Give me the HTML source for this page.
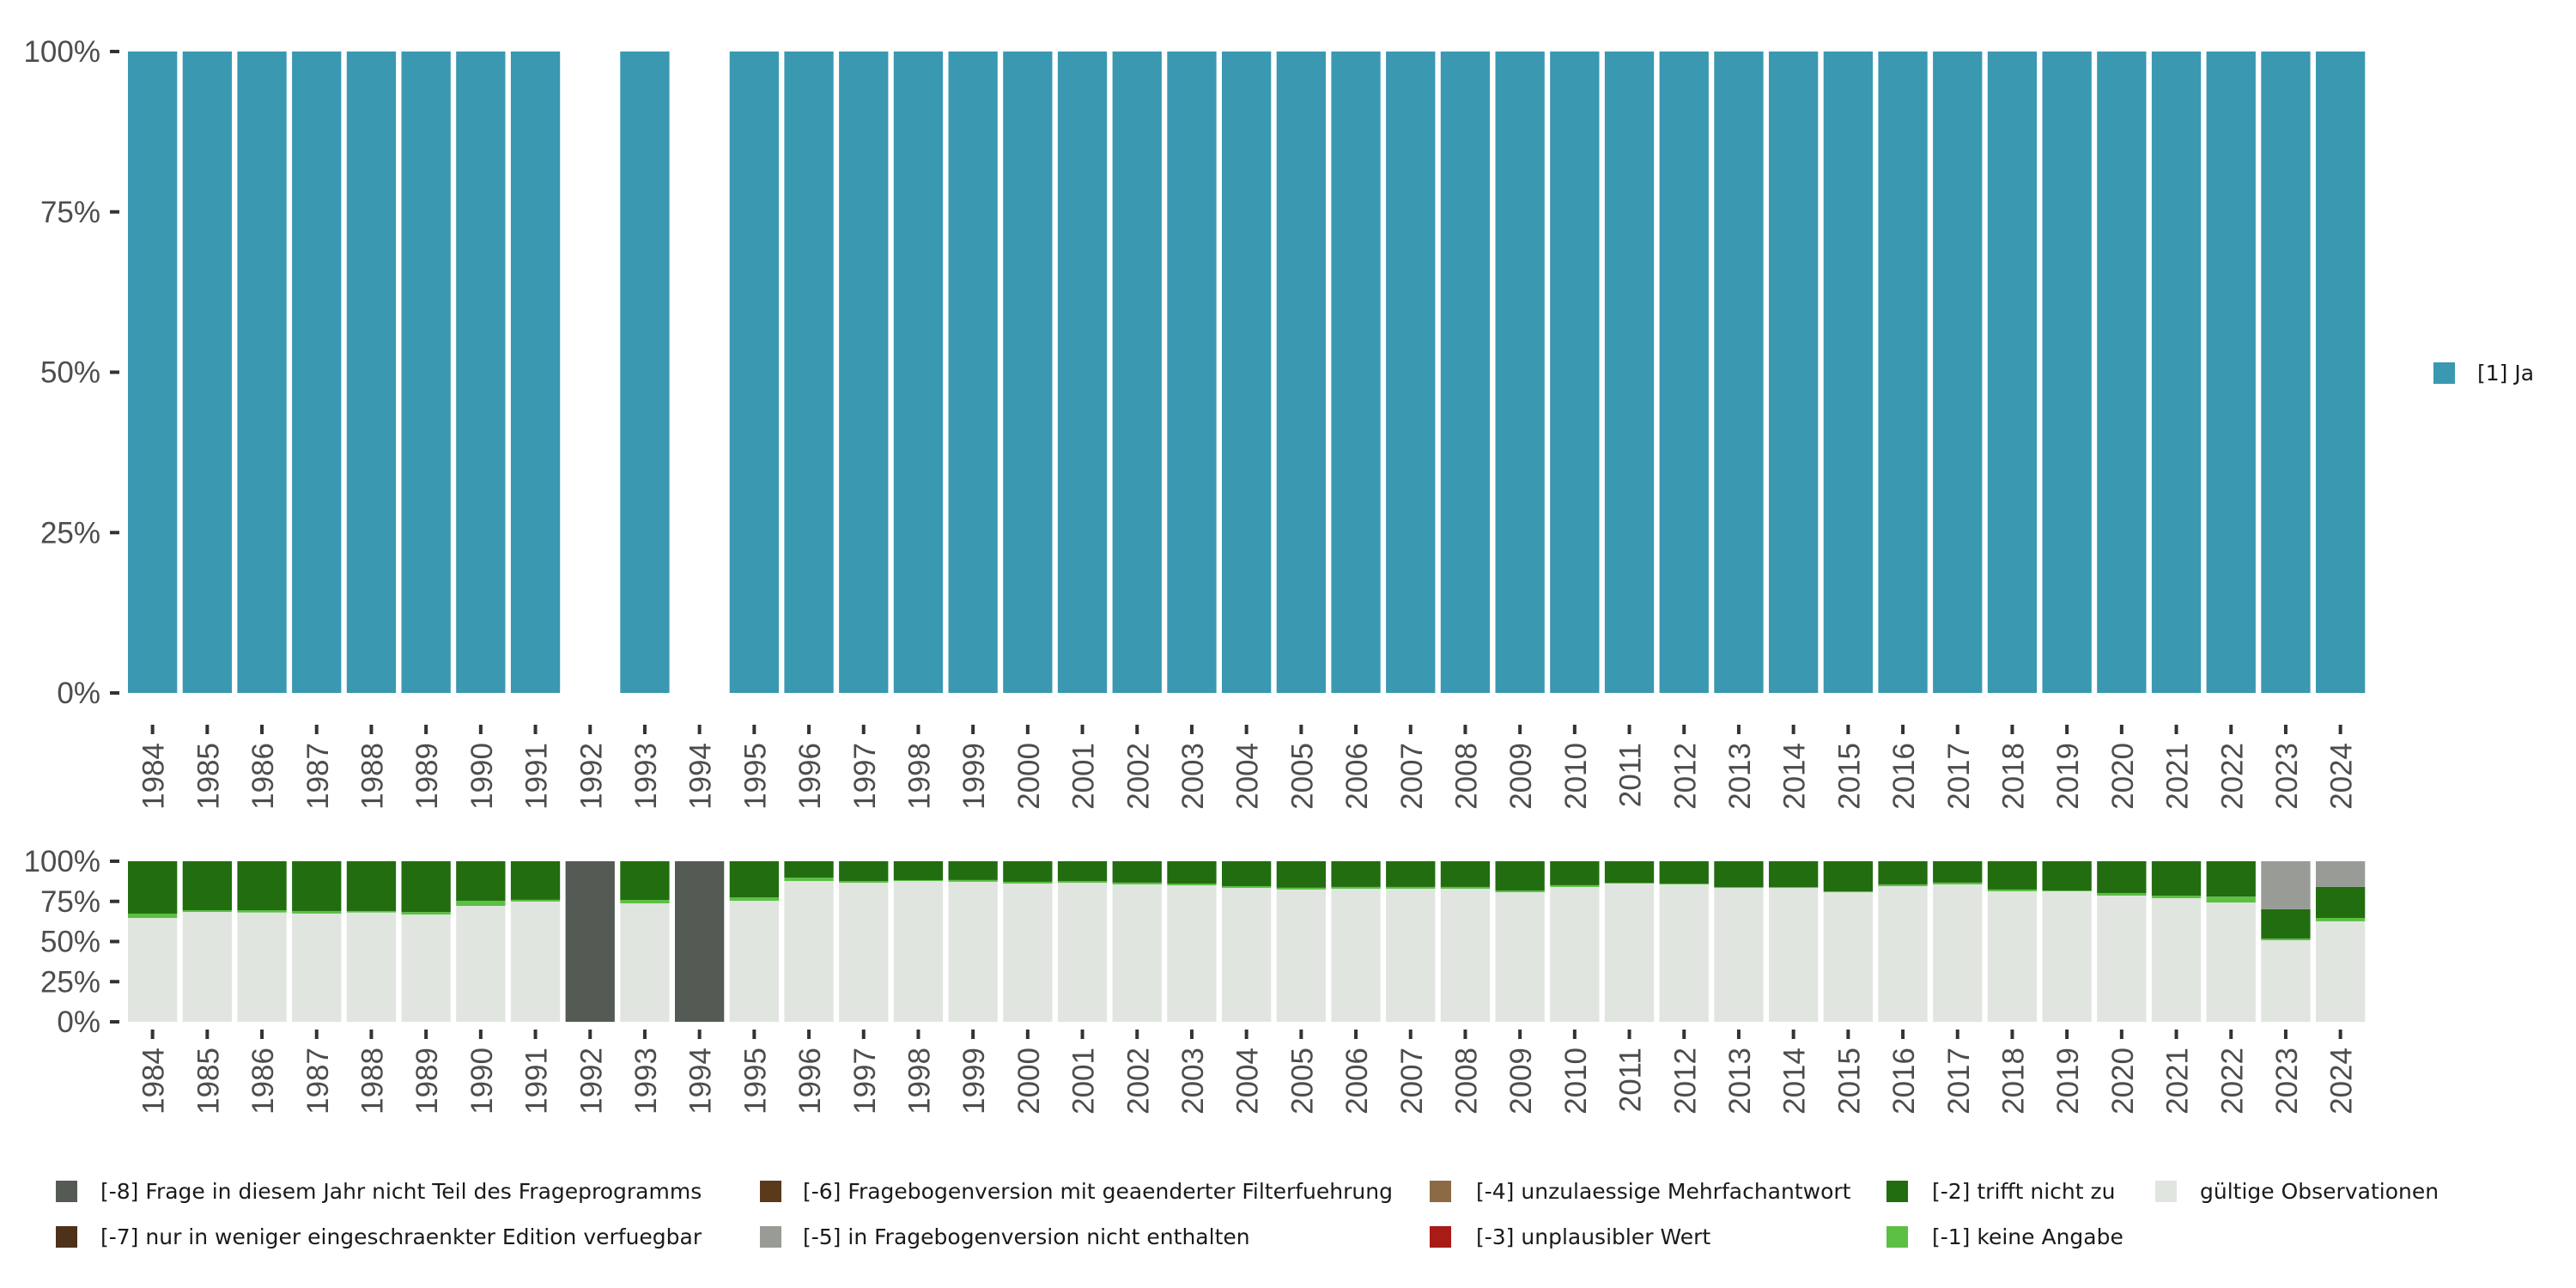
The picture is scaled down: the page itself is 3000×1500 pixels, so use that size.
<!DOCTYPE html>
<html><head><meta charset="utf-8"><style>
html,body{margin:0;padding:0;background:#fff;}
svg{display:block;font-family:"Liberation Sans",sans-serif;}
</style></head><body>
<svg id="chart" width="3000" height="1500" xmlns="http://www.w3.org/2000/svg">
<g id="top"></g>
<g id="bot"></g>
<g id="leg"></g>
</svg>
<script>
const years = [1984,1985,1986,1987,1988,1989,1990,1991,1992,1993,1994,1995,1996,1997,1998,1999,2000,2001,2002,2003,2004,2005,2006,2007,2008,2009,2010,2011,2012,2013,2014,2015,2016,2017,2018,2019,2020,2021,2022,2023,2024];
const topJa = [100,100,100,100,100,100,100,100,null,100,null,100,100,100,100,100,100,100,100,100,100,100,100,100,100,100,100,100,100,100,100,100,100,100,100,100,100,100,100,100,100];
const valid = [64.7,68.4,68.1,67.4,68.1,66.8,72.2,74.9,0,73.8,0,75.4,87.7,86.6,87.7,87.2,86.1,86.6,85.6,85.0,83.4,82.4,82.9,82.9,82.9,80.7,84.0,86.1,85.6,83.4,83.4,80.7,84.5,85.6,81.3,81.3,78.6,77.0,74.3,50.8,62.6];
const keineAngabe = [2.7,1.1,1.4,1.6,0.9,1.6,3.2,1.1,0,2.1,0,2.1,2.1,1.1,0.5,1.1,1.1,1.1,1.1,1.1,1.1,1.1,1.1,1.1,1.1,1.1,1.1,0.5,0.5,0.5,0.5,0.5,1.1,1.1,1.1,0.5,1.6,1.6,3.7,1.1,2.1];
const nichtEnthalten = [0,0,0,0,0,0,0,0,0,0,0,0,0,0,0,0,0,0,0,0,0,0,0,0,0,0,0,0,0,0,0,0,0,0,0,0,0,0,0,29.9,16.0];
const nichtTeil = [0,0,0,0,0,0,0,0,100,0,100,0,0,0,0,0,0,0,0,0,0,0,0,0,0,0,0,0,0,0,0,0,0,0,0,0,0,0,0,0,0];
const yTicks = [0,25,50,75,100];
const NS='http://www.w3.org/2000/svg';
function mk(parent,tag,attrs){const e=document.createElementNS(NS,tag);for(const k in attrs)e.setAttribute(k,attrs[k]);parent.appendChild(e);return e;}
const x0=149, pitch=63.7, bw=57.3;
function xPos(i){return x0+i*pitch;}
function drawAxes(g,yTop,yBot,tickTop,labTop,prefix){
  const ys=v=>yBot-(yBot-yTop)*v/100;
  yTicks.forEach(t=>{
    const tk=mk(g,'rect',{x:128,y:ys(t)-2,width:11,height:4,fill:'#333'});
    
    
    const tx=mk(g,'text',{x:117,y:ys(t)+12,'text-anchor':'end','font-size':35,fill:'#4d4d4d'});
    tx.textContent=t+'%';
    
    
  });
  years.forEach((yr,i)=>{
    const cx=xPos(i)+bw/2;
    const tk=mk(g,'rect',{x:cx-2,y:tickTop,width:4,height:11,fill:'#333'});
    
    
    const tx=mk(g,'text',{x:0,y:0,'text-anchor':'end','font-size':35,fill:'#4d4d4d',transform:`translate(${cx+13},${labTop}) rotate(-90)`});
    tx.textContent=yr;
    
    
  });
  return ys;
}
const gt=document.getElementById('top');
const ysT=drawAxes(gt,60,807,844,865,'top');
topJa.forEach((v,i)=>{
  if(v==null)return;
  const r=mk(gt,'rect',{x:xPos(i),y:ysT(v),width:bw,height:ysT(0)-ysT(v),fill:'#3a98b1'});
  
  
});
const gb=document.getElementById('bot');
const ysB=drawAxes(gb,1003,1190,1199,1220,'bottom');
const cols={valid:'#e1e5e0',k:'#5bc044',t:'#226d0f',n:'#999c96',e:'#545b54'};
years.forEach((yr,i)=>{
  const parts=[['valid',valid[i]],['k',keineAngabe[i]]];
  let rest;
  if(nichtTeil[i]>0){parts.length=0;parts.push(['e',nichtTeil[i]]);}
  else{rest=100-valid[i]-keineAngabe[i]-nichtEnthalten[i];parts.push(['t',rest]);parts.push(['n',nichtEnthalten[i]]);}
  let acc=0;
  parts.forEach(([k,v])=>{
    if(v<=0)return;
    const r=mk(gb,'rect',{x:xPos(i),y:ysB(acc+v),width:bw,height:ysB(acc)-ysB(acc+v),fill:cols[k]});
    
    
    acc+=v;
  });
});
const gl=document.getElementById('leg');
const leg=[
 [65,117,1387,'#545b54','[-8] Frage in diesem Jahr nicht Teil des Frageprogramms'],
 [65,117,1440,'#4d3119','[-7] nur in weniger eingeschraenkter Edition verfuegbar'],
 [885,935,1387,'#5a3a1a','[-6] Fragebogenversion mit geaenderter Filterfuehrung'],
 [885,935,1440,'#999c96','[-5] in Fragebogenversion nicht enthalten'],
 [1665,1719,1387,'#8b6a45','[-4] unzulaessige Mehrfachantwort'],
 [1665,1719,1440,'#a81b16','[-3] unplausibler Wert'],
 [2197,2250,1387,'#226d0f','[-2] trifft nicht zu'],
 [2197,2250,1440,'#5bc044','[-1] keine Angabe'],
 [2510,2562,1387,'#e1e5e0','gültige Observationen'],
 [2834,2885,434,'#3a98b1','[1] Ja']
];
leg.forEach(([kx,tx,cy,c,label])=>{
  const r=mk(gl,'rect',{x:kx,y:cy-12,width:25,height:25,fill:c});
  
  
  const t=mk(gl,'text',{x:tx,y:cy+9,'font-size':25,fill:'#1a1a1a','font-family':'"DejaVu Sans",sans-serif'});
  t.textContent=label;
  
  
});
</script>
</body></html>
